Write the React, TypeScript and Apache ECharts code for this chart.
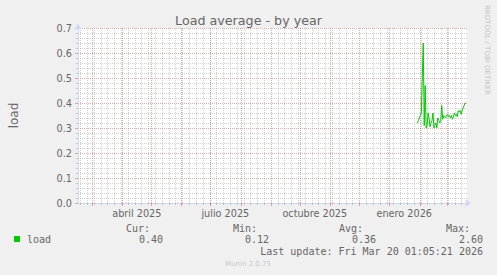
import React, { useEffect, useRef } from 'react';
import * as echarts from 'echarts';

// ---- data ----
const DAY = 86400000;
const rangeStart = '2025-02-14T12:00:00Z';
const rangeDays = 400;
const seriesStart = '2026-01-29T12:00:00Z';
const loadValues = [
  0.32, 0.33, 0.34, 0.35, 0.36, 0.50, 0.64, 0.31, 0.47, 0.30,
  0.31, 0.36, 0.34, 0.305, 0.32, 0.33, 0.36, 0.30, 0.31, 0.32,
  0.30, 0.34, 0.33, 0.32, 0.33, 0.39, 0.335, 0.35, 0.345, 0.34,
  0.35, 0.355, 0.345, 0.35, 0.34, 0.35, 0.335, 0.345, 0.36, 0.35,
  0.355, 0.345, 0.37, 0.365, 0.37, 0.355, 0.37, 0.38, 0.39, 0.40,
  0.40,
];
const xLabelDates = ['2025-04-16', '2025-07-16', '2025-10-16', '2026-01-16'];
const xLabelTexts = ['abril 2025', 'julio 2025', 'octubre 2025', 'enero 2026'];
const firstMonth = '2025-03-01';
const lastMonth = '2026-03-01';
const firstMonday = '2025-02-17';
const yTicks = [0, 0.1, 0.2, 0.3, 0.4, 0.5, 0.6, 0.7];
const legendName = 'load';
const legendHeaders = ['Cur:', 'Min:', 'Avg:', 'Max:'];
const legendValues = ['0.40', '0.12', '0.36', '2.60'];
const lastUpdate = 'Last update: Fri Mar 20 01:05:21 2026';
const titleText = 'Load average - by year';
const yName = 'load';
const watermark = 'RRDTOOL / TOBI OETIKER';
const footer = 'Munin 2.0.75';

// ---- styling ----
const FONT = 'DejaVu Sans';
const MONO = 'DejaVu Sans Mono';
const TXT = '#666666';
const AXIS = '#CFD6F8';
const MAJOR = 'rgba(222,79,79,0.5)';
const MINOR = 'rgba(143,143,143,0.4)';
const GREEN = '#00cc00';

const xMin = Date.parse(rangeStart);
const xMax = xMin + rangeDays * DAY;
const t0 = Date.parse(seriesStart);
const seriesData = loadValues.map((v, i) => [t0 + i * DAY, v]);

const monthStarts: number[] = [];
{
  const a = new Date(firstMonth + 'T00:00:00Z');
  const b = Date.parse(lastMonth + 'T00:00:00Z');
  let y = a.getUTCFullYear();
  let m = a.getUTCMonth();
  while (Date.UTC(y, m, 1) <= b) {
    monthStarts.push(Date.UTC(y, m, 1));
    m++;
    if (m > 11) { m = 0; y++; }
  }
}
const weekStarts: number[] = [];
for (let t = Date.parse(firstMonday + 'T00:00:00Z'); t < xMax; t += 7 * DAY) {
  if (monthStarts.indexOf(t) < 0) weekStarts.push(t);
}
const labelValues = xLabelDates.map((d) => Date.parse(d + 'T00:00:00Z'));

const legendHeaderRight = [150, 257, 363, 470];
const legendValueRight = [163, 269, 376, 483];

const option: any = {
  animation: false,
  backgroundColor: '#f0f0f0',
  title: {
    text: titleText,
    left: 'center',
    top: 9,
    textStyle: { fontFamily: FONT, fontSize: 12.7, fontWeight: 'normal', color: TXT },
  },
  grid: {
    left: 67, top: 28, width: 400, height: 175,
    show: true, backgroundColor: '#ffffff', borderWidth: 0,
  },
  xAxis: [
    {
      type: 'value', min: xMin, max: xMax, position: 'bottom',
      axisLine: { show: false },
      axisTick: { show: true, customValues: weekStarts, length: 2, lineStyle: { color: MINOR } },
      splitLine: { show: true, lineStyle: { color: MINOR, type: [1, 1], width: 1 } },
      axisLabel: { show: false },
    },
    {
      type: 'value', min: xMin, max: xMax, position: 'bottom',
      axisLine: {
        show: true, lineStyle: { color: AXIS, width: 1 },
        symbol: ['none', 'arrow'], symbolSize: [6, 6], symbolOffset: [0, 4],
      },
      axisTick: { show: true, customValues: monthStarts, length: 3, lineStyle: { color: MAJOR } },
      splitLine: { show: true, lineStyle: { color: MAJOR, type: [1, 1], width: 1 } },
      axisLabel: {
        show: true,
        customValues: labelValues,
        margin: 5,
        color: TXT,
        fontFamily: FONT,
        fontSize: 9.7,
        formatter: (v: number) => {
          const i = labelValues.indexOf(v);
          return i >= 0 ? xLabelTexts[i] : '';
        },
      },
    },
  ],
  yAxis: {
    type: 'value', min: yTicks[0], max: yTicks[yTicks.length - 1], interval: 0.1,
    name: yName, nameLocation: 'middle', nameGap: 58,
    nameTextStyle: { fontFamily: FONT, fontSize: 12, color: TXT },
    axisLine: {
      show: true, lineStyle: { color: AXIS, width: 1 },
      symbol: ['none', 'arrow'], symbolSize: [6, 6], symbolOffset: [0, 4],
    },
    axisTick: { show: true, length: 3, lineStyle: { color: MAJOR } },
    minorTick: { show: true, splitNumber: 5, length: 2, lineStyle: { color: MINOR } },
    splitLine: { show: true, lineStyle: { color: MAJOR, type: [1, 1], width: 1 } },
    minorSplitLine: { show: true, lineStyle: { color: MINOR, type: [1, 1], width: 1 } },
    axisLabel: {
      margin: 6, color: TXT, fontFamily: FONT, fontSize: 9.7,
      formatter: (v: number) => v.toFixed(1),
    },
  },
  series: [
    {
      type: 'line', name: legendName, data: seriesData, xAxisIndex: 0,
      showSymbol: false, symbol: 'none',
      lineStyle: { color: GREEN, width: 1 },
      z: 5,
    },
  ],
  graphic: [
    {
      type: 'text', x: 487, y: 5, rotation: -Math.PI / 2,
      style: { text: watermark, fill: '#c4c4c4', font: `7px "${FONT}"`, textAlign: 'left', textVerticalAlign: 'middle' },
    },
    { type: 'rect', shape: { x: 14, y: 236, width: 6, height: 6 }, style: { fill: GREEN } },
    {
      type: 'text', x: 27, y: 239.5,
      style: { text: legendName, fill: TXT, font: `10px "${MONO}"`, textAlign: 'left', textVerticalAlign: 'middle' },
    },
    ...legendHeaders.map((h, i) => ({
      type: 'text', x: legendHeaderRight[i], y: 228,
      style: { text: h, fill: TXT, font: `10px "${MONO}"`, textAlign: 'right', textVerticalAlign: 'middle' },
    })),
    ...legendValues.map((h, i) => ({
      type: 'text', x: legendValueRight[i], y: 239.5,
      style: { text: h, fill: TXT, font: `10px "${MONO}"`, textAlign: 'right', textVerticalAlign: 'middle' },
    })),
    {
      type: 'text', x: 483, y: 251.5,
      style: { text: lastUpdate, fill: TXT, font: `10px "${MONO}"`, textAlign: 'right', textVerticalAlign: 'middle' },
    },
    {
      type: 'text', x: 248, y: 264,
      style: { text: footer, fill: '#c8c8c8', font: `7px "${FONT}"`, textAlign: 'center', textVerticalAlign: 'middle' },
    },
  ],
};

export default function App() {
  const ref = useRef<HTMLDivElement>(null);
  useEffect(() => {
    if (!ref.current) return;
    const chart = echarts.init(ref.current, undefined, { renderer: 'svg' });
    chart.setOption(option);
    return () => chart.dispose();
  }, []);
  return (
    <div
      ref={ref}
      style={{ position: 'fixed', left: 0, top: 0, width: 497, height: 275 }}
    />
  );
}
